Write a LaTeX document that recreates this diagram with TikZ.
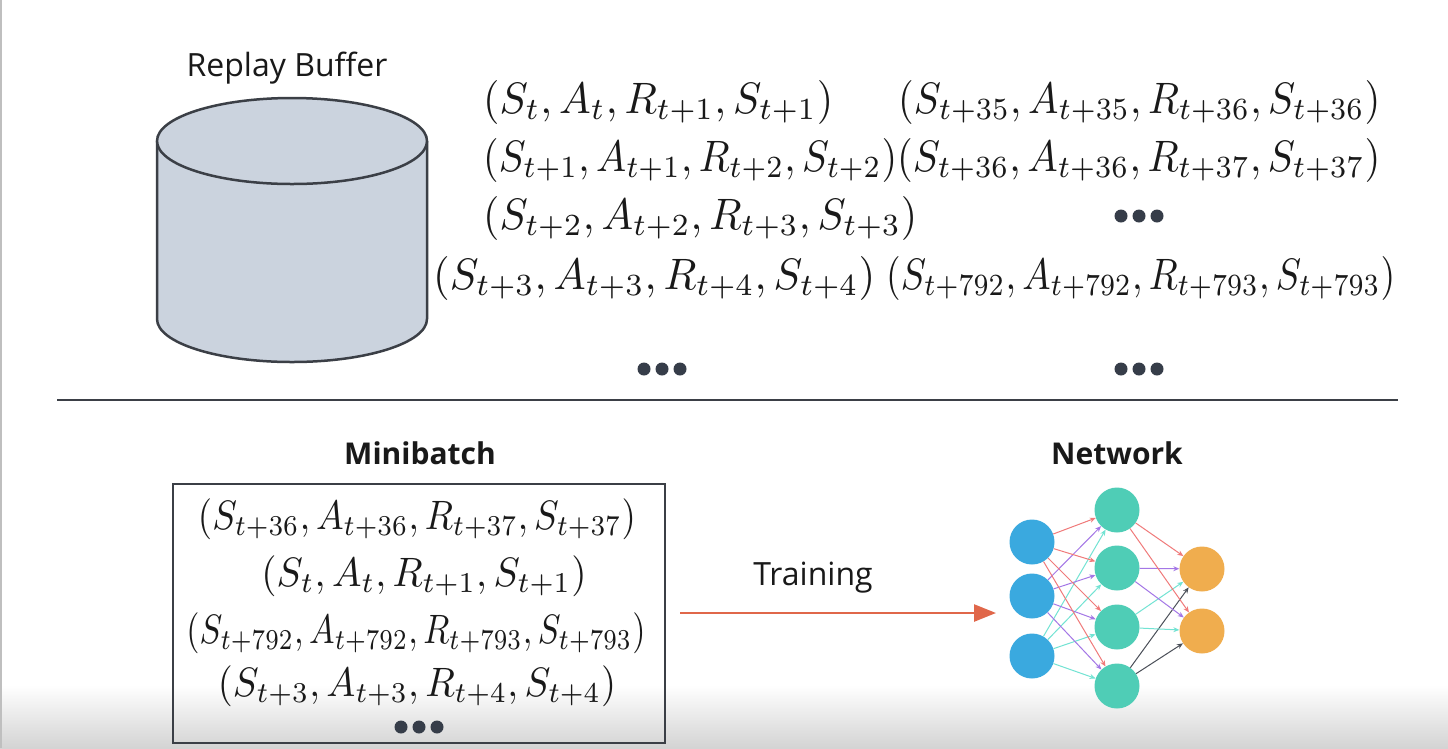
\documentclass[tikz,border=0pt]{standalone}
\usepackage{graphicx}
\usepackage{fontspec}
\newfontfamily\osans{Open Sans}
\usetikzlibrary{arrows.meta}
\definecolor{ink}{HTML}{3B3F46}
\definecolor{cylfill}{HTML}{CBD3DE}
\definecolor{dotc}{HTML}{363D49}
\definecolor{trainred}{HTML}{E0674A}
\definecolor{inblue}{HTML}{3AA9DF}
\definecolor{hidteal}{HTML}{4FCDB6}
\definecolor{outorange}{HTML}{F0AD4E}
\definecolor{eRed}{HTML}{F07A7A}
\definecolor{ePurple}{HTML}{A477E6}
\definecolor{eCyan}{HTML}{72E3D3}
\definecolor{eDark}{HTML}{4A4F58}
% tuple text fitted to a given width; fixed cap height
\newcommand{\toptx}[2]{\resizebox{#1}{33pt}{$#2$}}
\newcommand{\mbtx}[2]{\resizebox{#1}{30.8pt}{$#2$}}
\tikzset{
  toptup/.style={inner sep=0pt, anchor=west, text=black!90},
  mbtup/.style={inner sep=0pt, text=black!90},
  label/.style={font=\osans\fontsize{32}{36}\selectfont, inner sep=0pt, text=black!90},
  blabel/.style={font=\osans\bfseries\fontsize{30}{34}\selectfont, inner sep=0pt, text=black!90},
  dot/.style={circle, fill=dotc, minimum size=13pt, inner sep=0pt},
  neuron/.style={circle, minimum size=45pt, inner sep=0pt},
  edge/.style={line width=1pt, -{Stealth[length=6pt,width=5pt]}},
}
\newcommand{\threedots}[2]{%
  \node[dot] (#1a) at ([xshift=-18pt]#2) {};
  \node[dot] (#1b) at (#2) {};
  \node[dot] (#1c) at ([xshift=18pt]#2) {};
}
\begin{document}
\begin{tikzpicture}[x=1pt,y=-1pt]
\useasboundingbox (0,0) rectangle (1448,748);
% background
\fill[white] (0,0) rectangle (1448,748);
\shade[top color=white, bottom color=black!17] (0,685) rectangle (1448,748);
\draw[black!25, line width=2pt] (1,0) -- (1,748);

% Replay buffer title and cylinder
\node[label] (rbt) at (287,68) {Replay Buffer};
\draw[ink, line width=2.5pt, fill=cylfill, line join=round]
  (157,141) -- (157,319) arc[start angle=180, end angle=0, x radius=135, y radius=43] -- (427,141);
\draw[ink, line width=2.5pt, fill=cylfill] (292,141) ellipse [x radius=135, y radius=43];

% Replay buffer contents
\node[toptup] (c1r1) at (483,102) {\toptx{350pt}{(S_t, A_t, R_{t+1}, S_{t+1})}};
\node[toptup] (c1r2) at (483,160) {\toptx{414pt}{(S_{t+1}, A_{t+1}, R_{t+2}, S_{t+2})}};
\node[toptup] (c1r3) at (483,218) {\toptx{434pt}{(S_{t+2}, A_{t+2}, R_{t+3}, S_{t+3})}};
\node[toptup] (c1r4) at (433,278) {\toptx{442pt}{(S_{t+3}, A_{t+3}, R_{t+4}, S_{t+4})}};
\node[toptup] (c2r1) at (898,102) {\toptx{482pt}{(S_{t+35}, A_{t+35}, R_{t+36}, S_{t+36})}};
\node[toptup] (c2r2) at (897,160) {\toptx{483pt}{(S_{t+36}, A_{t+36}, R_{t+37}, S_{t+37})}};
\node[toptup] (c2r4) at (886,278) {\toptx{509pt}{(S_{t+792}, A_{t+792}, R_{t+793}, S_{t+793})}};
\threedots{dA}{1139,216}
\threedots{dB}{662,369}
\threedots{dC}{1139,369}

% separator
\draw[ink, line width=2pt] (57,400) -- (1398,400);

% Minibatch
\node[blabel] (mbt) at (420,453) {Minibatch};
\node[draw=ink, line width=2.5pt, minimum width=492pt, minimum height=259pt, inner sep=0pt] (mb) at (419,613.5) {};
\node[mbtup] (m1) at (417,519) {\mbtx{438pt}{(S_{t+36}, A_{t+36}, R_{t+37}, S_{t+37})}};
\node[mbtup] (m2) at (424,576) {\mbtx{325pt}{(S_t, A_t, R_{t+1}, S_{t+1})}};
\node[mbtup] (m3) at (416,633) {\mbtx{459pt}{(S_{t+792}, A_{t+792}, R_{t+793}, S_{t+793})}};
\node[mbtup] (m4) at (417,686) {\mbtx{398pt}{(S_{t+3}, A_{t+3}, R_{t+4}, S_{t+4})}};
\threedots{dM}{419,727}

% Training arrow
\coordinate (tr1) at (680,613);
\coordinate (tr2) at (996,613);
\draw[trainred, line width=2.5pt, -{Triangle[length=22pt,width=17pt]}] (tr1) -- (tr2);
\node[label] (trl) at (813,578) {Training};

% Network
\node[blabel] (nett) at (1117,453) {Network};
\node[neuron, fill=inblue] (i1) at (1032,542) {};
\node[neuron, fill=inblue] (i2) at (1032,596) {};
\node[neuron, fill=inblue] (i3) at (1032,656) {};
\node[neuron, fill=hidteal] (h1) at (1117,510) {};
\node[neuron, fill=hidteal] (h2) at (1117,568) {};
\node[neuron, fill=hidteal] (h3) at (1117,627) {};
\node[neuron, fill=hidteal] (h4) at (1117,686) {};
\node[neuron, fill=outorange] (o1) at (1202,569) {};
\node[neuron, fill=outorange] (o2) at (1202,631) {};
\foreach \h in {h1,h2,h3,h4}{
  \draw[edge, eRed] (i1) -- (\h);
  \draw[edge, ePurple] (i2) -- (\h);
  \draw[edge, eCyan] (i3) -- (\h);
}
\foreach \o in {o1,o2}{
  \draw[edge, eRed] (h1) -- (\o);
  \draw[edge, ePurple] (h2) -- (\o);
  \draw[edge, eCyan] (h3) -- (\o);
  \draw[edge, eDark] (h4) -- (\o);
}
\end{tikzpicture}
\end{document}
